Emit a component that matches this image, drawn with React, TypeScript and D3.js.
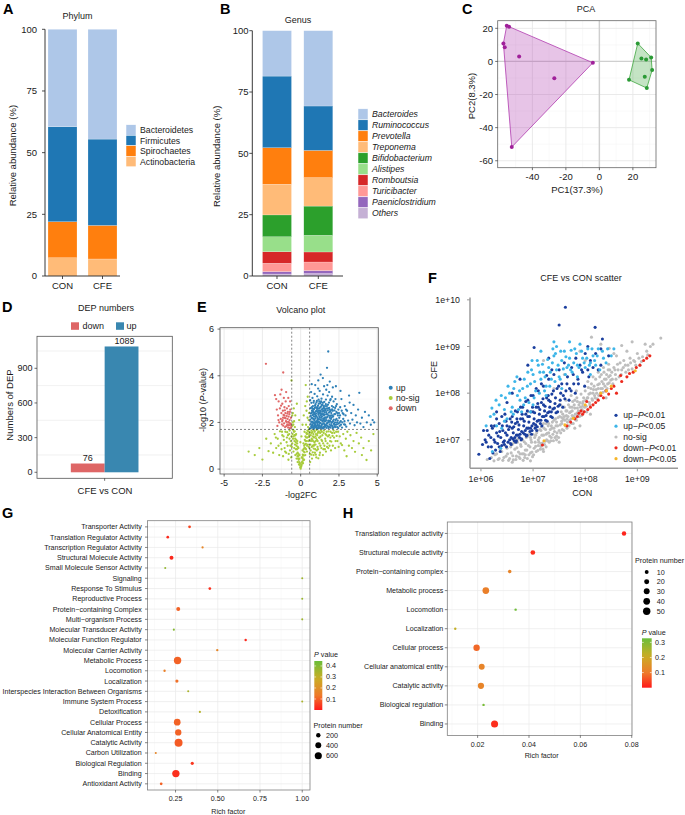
import React from "react";
import * as d3 from "d3";

const FONT = "'Liberation Sans', Arial, Helvetica, sans-serif";
const TXT = "#1a1a1a";

// ---------- A: phylum ----------
const phylumGroups = ["CON", "CFE"];
const phylumNames = ["Actinobacteria", "Spirochaetes", "Firmicutes", "Bacteroidetes"];
const phylumCON = [7.4, 14.6, 38.5, 39.5];
const phylumCFE = [6.9, 13.6, 35.0, 44.5];
const phylumColors = ["#FFBB78", "#FF7F0E", "#1F77B4", "#AEC7E8"];

// ---------- B: genus ----------
const genusNames = ["Others", "Paeniclostridium", "Turicibacter", "Romboutsia", "Alistipes", "Bifidobacterium", "Treponema", "Prevotella", "Ruminococcus", "Bacteroides"];
const genusCON = [0.8, 1.0, 3.4, 4.7, 6.1, 8.9, 12.5, 14.9, 29.2, 18.5];
const genusCFE = [1.0, 1.2, 3.5, 4.1, 6.8, 11.9, 11.6, 11.1, 18.1, 30.7];
const genusColors = ["#C5B0D5", "#9467BD", "#FF9896", "#D62728", "#98DF8A", "#2CA02C", "#FFBB78", "#FF7F0E", "#1F77B4", "#AEC7E8"];
const abundanceTicks = [0, 25, 50, 75, 100];

// ---------- C: PCA ----------
const pcaCON: [number, number][] = [[-55.3, 21.6], [-53.9, 21.0], [-57.3, 10.9], [-56.5, 8.5], [-47.9, 3.0], [-26.9, -10.1], [-3.9, -0.8], [-52.3, -51.7]];
const pcaCFE: [number, number][] = [[22.9, 10.9], [25.1, 1.8], [27.9, 1.2], [30.9, 2.4], [31.5, -5.2], [27.1, -9.3], [17.7, -11.1], [28.3, -16.1]];
const pcaTicksX = [-40, -20, 0, 20];
const pcaTicksY = [-60, -40, -20, 0, 20];

// ---------- D: DEP numbers ----------
const depGroups = ["down", "up"];
const depValues = [76, 1089];
const depColors = ["#DE6666", "#3987B0"];
const depTicks = [0, 300, 600, 900];

// ---------- E: volcano (log2FC, -log10 P) ----------
const volcanoUp: [number, number][] = [
  [0.61,1.74],[0.63,2.12],[0.64,2.61],[0.66,1.93],[0.67,2.38],[0.69,1.81],[0.7,2.84],[0.71,2.2],[0.73,1.77],[0.74,2.5],[0.75,2.03],[0.77,3.05],[0.78,1.88],[0.79,2.31],[0.8,2.7],[0.82,1.98],[0.83,2.15],[0.84,1.76],[0.85,2.55],[0.86,2.92],[0.87,2.25],[0.88,1.84],[0.89,2.42],[0.9,2.08],[0.91,3.22],[0.92,1.95],[0.93,2.63],[0.94,2.34],[0.95,1.79],[0.96,2.18],[0.97,2.78],[0.98,2.01],[0.99,2.47],[0.62,2.95],[0.68,3.3],[0.72,2.42],[0.76,2.6],[0.81,2.45],[0.86,2.0],[0.93,1.88],
  [1.01,1.82],[1.02,2.27],[1.03,2.86],[1.05,2.05],[1.06,1.75],[1.07,2.58],[1.08,3.12],[1.1,2.14],[1.11,1.92],[1.12,2.45],[1.13,2.72],[1.15,1.8],[1.16,2.33],[1.17,2.98],[1.18,2.02],[1.2,2.6],[1.21,1.88],[1.22,2.24],[1.24,3.35],[1.25,2.5],[1.26,1.76],[1.27,2.12],[1.28,2.82],[1.3,1.97],[1.31,2.4],[1.32,2.67],[1.33,1.84],[1.35,2.2],[1.36,3.02],[1.37,2.55],[1.38,1.9],[1.4,2.35],[1.41,2.08],[1.42,2.76],[1.44,1.78],[1.45,2.48],[1.46,3.2],[1.47,2.16],[1.49,1.95],[1.5,2.62],[1.51,2.3],[1.52,1.82],[1.54,2.88],[1.55,2.05],[1.56,2.44],[1.58,1.9],[1.59,2.7],[1.6,2.22],[1.04,2.5],[1.09,1.98],[1.14,3.45],[1.19,2.38],[1.23,2.0],[1.29,2.3],[1.34,2.9],[1.39,1.76],[1.43,2.58],[1.48,2.1],[1.53,3.55],[1.57,2.15],
  [1.62,1.86],[1.63,2.52],[1.65,2.98],[1.66,2.1],[1.68,1.77],[1.7,2.36],[1.71,2.7],[1.73,1.95],[1.75,2.24],[1.76,3.15],[1.78,2.0],[1.8,2.6],[1.82,1.82],[1.84,2.42],[1.85,2.85],[1.87,2.08],[1.89,1.92],[1.9,2.55],[1.92,2.28],[1.94,1.78],[1.96,3.0],[1.98,2.15],[2.0,2.4],[2.02,1.88],[2.04,2.7],[2.06,2.02],[2.08,1.76],[2.1,2.5],[2.12,2.25],[2.15,2.9],[2.17,1.95],[2.2,2.35],[2.22,1.82],[2.25,2.62],[2.28,2.1],[2.3,1.9],[2.33,2.45],[2.36,2.78],[2.38,2.0],[2.4,1.8],[2.43,2.3],[2.46,2.55],[2.48,1.95],[1.67,3.4],[1.74,3.6],[1.86,3.3],[1.93,2.95],[2.05,3.1],[2.14,1.78],[2.27,3.0],
  [2.52,2.2],[2.55,1.85],[2.58,2.65],[2.62,2.05],[2.66,3.0],[2.7,1.78],[2.74,2.4],[2.78,2.15],[2.83,1.92],[2.88,2.7],[2.93,2.3],[2.98,1.82],[3.03,2.5],[3.1,2.08],[3.16,3.15],[3.22,1.95],[3.3,2.4],[3.38,2.12],[3.45,2.75],[3.52,1.88],[3.6,2.3],[3.68,2.0],[3.75,2.55],[3.83,3.27],[3.9,1.95],[4.0,2.2],[4.1,1.8],[4.2,2.45],[4.32,2.0],[4.45,2.3],[4.58,1.9],[4.7,2.1],[4.8,2.0],[3.2,2.85],[2.6,3.35],
  [0.72,3.64],[1.8,5.04],[1.72,4.34],[1.45,3.9],[1.15,3.8],[0.95,3.6],[2.3,3.55],[1.9,3.75],[1.3,4.05],[2.1,3.5],
  [0.66,2.28],[0.69,2.02],[0.71,1.86],[0.73,2.66],[0.75,2.18],[0.77,1.92],[0.79,2.52],[0.8,1.8],[0.82,2.36],[0.84,2.85],[0.86,1.73],[0.87,2.58],[0.89,2.12],[0.91,1.82],[0.92,2.4],[0.94,2.72],[0.96,1.9],[0.98,2.28],[1.0,2.64],[1.01,2.0],[1.03,1.78],[1.04,2.38],[1.06,2.92],[1.07,1.86],[1.09,2.22],[1.1,2.66],[1.12,2.06],[1.13,1.74],[1.15,2.52],[1.16,2.14],[1.18,2.8],[1.19,1.84],[1.21,2.42],[1.22,2.9],[1.24,1.98],[1.25,2.2],[1.27,2.64],[1.28,1.78],[1.3,2.48],[1.31,2.86],[1.33,2.1],[1.34,2.34],[1.36,1.82],[1.37,2.74],[1.39,2.26],[1.4,1.92],[1.42,2.46],[1.43,2.04],[1.45,2.84],[1.46,1.74],[1.48,2.36],[1.49,2.7],[1.51,1.96],[1.52,2.52],[1.54,2.18],[1.55,1.78],[1.57,2.6],[1.58,2.34],[1.6,1.84],[1.61,2.56],[1.63,2.06],[1.64,2.78],[1.66,1.88],[1.67,2.44],[1.69,2.2],[1.7,1.96],[1.72,2.6],[1.73,2.34],[1.75,1.84],[1.77,2.52],[1.78,2.76],[1.8,2.08],[1.81,1.76],[1.83,2.3],[1.85,2.02],[1.86,2.62],[1.88,1.8],[1.9,2.2],[1.91,2.46],[1.93,2.05],[1.95,1.86],[1.97,2.5],[1.99,2.3],[2.01,1.98],[2.03,2.22],[2.05,2.56],[2.07,1.84],[2.09,2.3],[2.11,2.05],[2.13,2.66],[2.16,2.12],[2.19,1.9],[2.21,2.52],[2.24,2.0],[2.26,2.36],[2.29,1.8],[2.31,2.7],[2.34,2.15],[2.37,1.92],[2.39,2.4],[2.42,2.08],[2.45,1.76],[2.5,2.4],[2.54,2.0],[2.57,2.3],[2.63,1.9],[2.68,2.5],[2.72,2.0],[2.8,2.35],[2.86,2.05],[2.9,1.9],[2.96,2.55]
];
const volcanoDown: [number, number][] = [
  [-0.62,1.8],[-0.64,2.2],[-0.66,1.95],[-0.68,2.55],[-0.7,1.75],[-0.72,2.1],[-0.74,2.35],[-0.76,1.88],[-0.78,2.7],[-0.8,2.02],[-0.82,1.78],[-0.84,2.45],[-0.86,2.15],[-0.88,1.92],[-0.9,2.6],[-0.92,2.28],[-0.94,1.84],[-0.96,2.05],[-0.98,2.9],[-1.0,2.4],[-1.02,1.8],[-1.04,2.2],[-1.06,2.65],[-1.08,1.96],[-1.1,3.05],[-1.12,2.32],[-1.14,1.86],[-1.16,2.5],[-1.18,2.1],[-1.2,2.8],[-1.23,1.92],[-1.26,2.4],[-1.3,2.15],[-1.33,3.2],[-1.36,2.6],[-1.4,2.0],[-1.44,2.9],[-1.48,2.3],[-1.52,1.85],[-1.56,2.55],[-1.6,3.0],[-1.68,3.17],[-1.14,4.14],[-2.27,4.51],[-1.25,3.4],[-0.95,3.3],
  [-0.65,1.9],[-0.71,2.45],[-0.75,1.98],[-0.79,2.25],[-0.83,1.88],[-0.87,2.38],[-0.91,2.02],[-0.99,2.18],[-1.03,2.52],[-1.07,2.3],[-1.15,2.2],[-1.21,2.05],[-0.69,2.9],[-0.81,3.05],[-1.28,2.72],[-1.45,2.1]
];
const volcanoNoSig: [number, number][] = [
  [0.0,0.02],[0.03,0.1],[-0.03,0.08],[0.06,0.2],[-0.06,0.18],[0.1,0.32],[-0.1,0.3],[0.13,0.45],[-0.13,0.4],[0.16,0.6],[-0.16,0.55],[0.2,0.75],[-0.2,0.7],[0.24,0.9],[-0.24,0.85],[0.28,1.05],[-0.28,1.0],[0.32,1.2],[-0.32,1.15],[0.36,1.35],[-0.36,1.3],[0.4,1.5],[-0.4,1.45],[0.44,1.65],[-0.44,1.6],[0.48,1.8],[-0.48,1.9],[0.52,2.1],[-0.52,2.0],[0.55,2.4],[-0.55,2.3],[0.08,0.5],[0.15,0.25],[0.22,0.4],[0.3,0.6],[0.35,0.85],[0.42,1.0],[0.5,1.2],[0.56,1.45],[0.45,2.2],[0.38,2.5],[0.33,3.6],[0.25,1.6],[0.18,1.1],[0.12,0.8],[-0.08,0.6],[-0.15,0.9],[-0.22,1.2],[-0.3,1.5],[-0.38,1.8],[-0.45,2.6],[-0.5,1.3],[-0.42,0.9],[-0.35,0.6],[-0.27,0.45],[-0.2,0.3],[-0.6,3.8],[0.4,2.9],[-0.55,1.1],[0.57,0.9],
  [0.62,0.3],[0.65,0.8],[0.68,1.2],[0.7,1.55],[0.74,0.45],[0.78,1.0],[0.8,1.4],[0.84,0.6],[0.88,1.65],[0.9,1.15],[0.95,0.85],[1.0,1.5],[1.02,0.5],[1.06,1.25],[1.1,0.95],[1.15,0.46],[1.18,1.6],[1.22,1.1],[1.26,0.7],[1.3,1.4],[1.35,0.9],[1.4,1.2],[1.45,0.6],[1.5,1.55],[1.55,1.0],[1.6,1.3],[1.65,0.75],[1.7,1.6],[1.75,1.1],[1.8,0.9],[1.86,1.45],[1.92,1.2],[1.98,0.8],[2.05,1.55],[2.1,1.0],[2.18,1.35],[2.25,0.9],[2.32,1.6],[2.4,1.2],[2.48,0.95],[0.72,1.3],[0.86,1.0],[0.98,1.2],[1.12,1.55],[1.24,1.35],[1.38,1.6],[1.48,0.85],[1.62,1.5],[1.78,1.4],[1.95,1.6],[2.15,1.65],
  [2.55,1.4],[2.62,1.1],[2.7,1.03],[2.78,1.5],[2.85,0.8],[2.95,1.3],[3.05,1.6],[3.15,1.0],[3.25,1.45],[3.35,0.9],[3.45,1.2],[3.55,0.74],[3.65,1.55],[3.8,1.1],[3.95,1.35],[4.1,0.9],[4.3,0.39],[4.45,1.2],[4.6,0.8],[4.75,1.5],[3.0,0.55],[4.0,0.6],
  [-0.62,0.5],[-0.65,1.2],[-0.7,0.8],[-0.75,1.5],[-0.8,0.4],[-0.85,1.0],[-0.9,1.35],[-0.95,0.7],[-1.0,1.6],[-1.05,0.9],[-1.1,1.25],[-1.15,0.55],[-1.2,1.45],[-1.25,0.85],[-1.3,1.1],[-1.4,0.6],[-1.5,1.3],[-1.6,0.9],[-1.7,1.5],[-1.8,0.7],[-1.95,1.1],[-2.1,0.77],[-2.25,1.3],[-2.5,0.41],[-2.7,0.9],[-3.0,0.6],[-3.4,0.75],[-0.72,1.65],[-0.88,1.58],[-1.35,1.62],
  [0.05,0.15],[0.09,0.28],[0.11,0.5],[0.14,0.62],[0.17,0.38],[0.19,0.85],[0.21,0.58],[0.23,1.0],[0.26,0.72],[0.27,1.25],[0.29,0.9],[0.31,1.4],[0.34,1.08],[0.37,1.55],[0.39,1.2],[0.41,0.75],[0.43,1.35],[0.46,1.52],[0.47,1.05],[0.49,1.62],[0.51,1.38],[0.53,0.95],[0.54,1.7],[0.58,1.25],[0.59,1.58],[0.6,0.65],[0.63,1.05],[0.66,1.45],[0.69,0.62],[0.71,1.65],[0.73,0.95],[0.76,1.25],[0.77,1.58],[0.79,0.72],[0.81,1.2],[0.83,1.5],[0.85,0.88],[0.87,1.35],[0.89,1.05],[0.92,1.6],[0.93,0.7],[0.96,1.4],[0.97,1.05],[0.99,0.62],[1.01,1.32],[1.04,1.68],[1.05,0.8],[1.08,1.45],[1.11,1.2],[1.13,0.85],[1.16,1.6],[1.2,1.35],[1.23,0.6],[1.27,1.55],[1.29,1.0],[1.32,1.65],[1.36,1.25],[1.42,1.45],[1.47,1.1],[1.52,1.65],[1.58,0.85],[1.63,1.2],[1.68,1.45],[1.72,0.95],[1.82,1.62],[1.88,1.0],[1.94,1.35],[2.0,1.18],[2.08,1.42],[2.2,1.55],[2.28,1.2],[2.35,1.42],[2.44,1.6],
  [-0.05,0.25],[-0.09,0.45],[-0.11,0.2],[-0.14,0.65],[-0.17,0.45],[-0.19,0.95],[-0.21,0.55],[-0.23,1.1],[-0.26,0.65],[-0.29,1.25],[-0.31,0.85],[-0.34,1.45],[-0.37,1.05],[-0.39,1.62],[-0.41,1.2],[-0.43,2.05],[-0.46,1.4],[-0.47,0.75],[-0.49,1.68],[-0.51,2.4],[-0.53,1.5],[-0.56,1.85],[-0.58,0.95],[-0.6,1.4],[-0.67,1.0],[-0.73,1.3],[-0.78,0.65],[-0.83,1.45],[-0.92,1.15],[-1.02,0.75],[-1.12,1.4],[-1.22,1.6],[-1.45,1.0],[-1.62,1.35],
  [0.12,1.9],[0.2,2.3],[-0.1,2.1],[0.3,2.7],[-0.25,2.8],[0.46,3.1],[0.05,1.4],[-0.02,1.15],[0.35,1.9],[-0.35,2.3]
];
const volcanoTicksX = [-5, -2.5, 0, 2.5, 5];
const volcanoTicksY = [0, 2, 4, 6];
const fcCut = 0.585;
const pCut = 1.7;

// ---------- F: scatter (log10 CON, log10 CFE) ----------
const scatterNoSig: [number, number][] = [
  [6.12,6.58],[6.2,6.62],[6.25,6.55],[6.3,6.7],[6.35,6.6],[6.4,6.75],[6.42,6.56],[6.48,6.65],[6.5,6.82],[6.55,6.6],[6.58,6.72],[6.6,6.9],[6.62,6.57],[6.65,6.8],
  [6.68,6.65],[6.7,6.95],[6.72,6.74],[6.75,6.6],[6.77,6.86],[6.8,7.0],[6.82,6.7],[6.84,6.62],[6.86,6.92],[6.88,6.78],[6.9,7.08],[6.92,6.68],[6.94,6.85],[6.96,7.0],[6.98,6.74],[6.99,6.64],
  [7.0,7.12],[7.02,6.82],[7.04,6.95],[7.06,6.75],[7.08,7.2],[7.1,6.88],[7.12,7.05],[7.14,6.8],[7.16,7.28],[7.18,6.93],[7.2,7.1],[7.22,6.9],[7.24,7.22],[7.26,7.0],[7.28,6.98],[7.3,7.35],[7.32,7.08],[7.34,6.98],[7.36,7.25],[7.38,7.12],[7.4,7.42],[7.42,7.05],[7.44,7.3],[7.46,7.15],[7.48,7.48],[7.5,7.2],[7.05,7.3],[7.15,6.92],[7.25,7.35],[7.35,7.5],[7.45,7.0],[7.1,7.0],[7.2,7.35],[7.3,7.15],[7.4,7.25],
  [7.52,7.32],[7.54,7.6],[7.56,7.22],[7.58,7.45],[7.6,7.7],[7.62,7.3],[7.64,7.52],[7.66,7.38],[7.68,7.75],[7.7,7.42],[7.72,7.6],[7.74,7.35],[7.76,7.82],[7.78,7.5],[7.8,7.68],[7.82,7.46],[7.84,7.9],[7.86,7.55],[7.88,7.75],[7.9,7.6],[7.92,7.98],[7.94,7.65],[7.96,7.82],[7.98,7.6],[7.55,7.4],[7.65,7.62],[7.75,7.7],[7.85,7.68],[7.95,7.72],[7.6,7.5],[7.7,7.58],[7.8,7.85],[7.9,7.8],[7.53,7.75],[7.63,7.85],[7.73,7.95],[7.83,8.05],
  [8.0,8.05],[8.02,7.72],[8.04,7.9],[8.06,8.12],[8.08,7.8],[8.1,8.0],[8.12,8.2],[8.14,7.85],[8.16,8.08],[8.18,7.95],[8.2,8.3],[8.22,8.0],[8.24,8.18],[8.26,7.95],[8.28,8.35],[8.3,8.1],[8.32,8.25],[8.34,8.02],[8.36,8.45],[8.38,8.15],[8.4,8.3],[8.42,8.1],[8.44,8.5],[8.46,8.22],[8.48,8.38],[8.05,8.25],[8.15,8.35],[8.25,8.45],[8.35,8.55],[8.45,8.62],
  [8.52,8.3],[8.55,8.55],[8.58,8.4],[8.62,8.62],[8.65,8.35],[8.7,8.5],[8.74,8.7],[8.78,8.45],[8.82,8.6],[8.86,8.75],[8.9,8.52],[8.95,8.68],[9.0,8.85],[9.05,8.6],[9.1,8.78],[9.18,8.9],[9.25,9.0],[9.45,9.18],[8.6,8.8],[8.8,8.9],[9.15,9.05],
  [8.12,9.2],[8.46,8.96],[8.3,9.05],[8.7,9.02],[8.9,9.1],[7.9,8.9],[8.0,8.7],[7.6,8.4],[7.4,8.1],[7.2,8.7],[6.9,7.6],[8.55,8.85],[9.3,9.05],
  [7.5,6.95],[7.8,7.25],[8.1,7.55],[7.2,6.75],[6.95,6.55],[8.4,7.9],[7.9,7.3],[6.6,6.52],
  [6.27,6.68],[6.33,6.58],[6.37,6.8],[6.44,6.62],[6.46,6.88],[6.51,6.7],[6.53,6.56],[6.57,6.85],[6.61,6.66],[6.63,6.94],[6.67,6.58],[6.69,6.83],[6.71,7.02],[6.73,6.63],[6.76,6.9],[6.79,6.7],[6.81,6.56],[6.83,6.96],[6.85,6.78],[6.87,7.05],[6.89,6.6],[6.91,6.88],[6.93,7.12],[6.95,6.72],[6.97,6.95],[7.01,6.68],[7.03,7.05],[7.05,6.86],[7.07,7.15],[7.09,6.77],[7.11,6.95],[7.13,7.22],[7.15,6.86],[7.17,7.1],[7.19,6.8],[7.21,7.25],[7.23,6.97],[7.25,6.85],[7.27,7.14],[7.29,7.3],[7.31,6.95],[7.33,7.22],[7.35,7.05],[7.37,7.38],[7.39,6.98],[7.41,7.18],[7.43,7.45],[7.45,7.08],[7.47,7.3],[7.49,7.05],[7.51,7.5],[7.53,7.15],[7.55,7.35],[7.57,7.55],[7.59,7.2],[7.61,7.42],[7.63,7.62],[7.65,7.25],[7.67,7.5],[7.69,7.3],[7.71,7.7],[7.73,7.45],[7.75,7.52],[7.77,7.35],[7.79,7.75],[7.81,7.55],[7.83,7.42],[7.85,7.82],[7.87,7.62],[7.89,7.5],[7.91,7.7],[7.93,7.52],[7.97,7.9],[7.99,7.7],[8.01,7.85],[8.03,7.6],[8.07,7.98],[8.09,7.75],[8.11,8.1],[8.13,7.88],[8.17,8.15],[8.19,7.9],[8.21,8.08],[8.23,7.88],[8.27,8.2],[8.29,8.0],[8.31,8.4],[8.33,8.1],[8.37,8.3],[8.39,8.05],[8.41,8.4],[8.43,8.2],[8.47,8.5],[8.49,8.28],[8.51,8.45],[8.53,8.2],[8.57,8.5],[8.59,8.3],[8.63,8.5],[8.67,8.65],[8.69,8.4],[8.73,8.55],[8.77,8.6],[8.83,8.5],[8.87,8.65],[8.93,8.7],[8.97,8.6],[9.03,8.75],[9.08,8.68],[9.2,8.82],[6.65,7.0],[6.75,6.7],[6.85,6.68],[6.95,7.05],[7.05,7.1],[7.15,7.2],[7.25,7.12],[7.35,7.3],[7.45,7.38],[7.55,7.48],[7.65,7.45],[7.75,7.62],[7.85,7.58],[7.95,7.78],[8.05,7.9],[8.15,8.0],[8.25,8.1],[8.35,8.2],[8.45,8.35]
];
const scatterUp01: [number, number][] = [
  [6.1,6.95],[6.15,7.1],[6.2,6.85],[6.22,7.25],[6.25,7.0],[6.28,6.78],[6.3,7.15],[6.32,6.92],[6.35,7.35],[6.38,7.05],[6.4,6.88],[6.42,7.2],[6.45,6.98],[6.48,7.4],[6.5,7.1],[6.52,6.95],[6.55,7.28],[6.58,7.05],[6.6,7.5],[6.62,7.15],[6.64,6.98],[6.66,7.35],[6.68,7.1],[6.7,7.6],[6.72,7.22],[6.74,7.05],[6.76,7.45],[6.78,7.18],[6.8,7.7],[6.82,7.3],[6.84,7.12],[6.86,7.55],[6.88,7.25],[6.9,7.85],[6.92,7.38],[6.94,7.18],[6.96,7.6],[6.98,7.3],[7.0,7.95],[7.02,7.45],[7.04,7.25],[7.06,7.7],[7.08,7.4],[7.1,8.05],[7.12,7.55],[7.14,7.35],[7.16,7.8],[7.18,7.5],[7.2,8.15],[7.22,7.62],[7.24,7.42],[7.26,7.9],[7.28,7.58],[7.3,8.3],[7.32,7.7],[7.34,7.5],[7.36,7.98],[7.38,7.66],[7.4,8.4],[7.42,7.78],[7.44,7.58],[7.46,8.1],[7.48,7.72],[7.5,8.5],[7.52,7.85],[7.55,8.2],[7.58,7.95],[7.6,8.65],[7.63,8.05],[7.66,8.35],[7.7,8.1],[7.74,8.55],[7.78,8.2],[7.82,8.75],[7.86,8.3],[7.9,8.6],[7.95,8.45],[8.0,8.85],[8.05,8.5],[8.1,8.7],[8.2,8.85],[8.3,8.6],
  [6.45,6.9],[6.55,7.0],[6.65,7.05],[6.75,7.12],[6.85,7.2],[6.95,7.25],[7.05,7.32],[7.15,7.42],[7.25,7.52],[7.35,7.6],[6.5,7.3],[6.6,7.25],[6.7,7.38],[6.8,7.45],[6.9,7.5],[7.0,7.6],[7.1,7.7],[7.2,7.75],[7.3,7.85],[6.4,7.5],[6.3,7.45],[6.2,7.3],[6.12,7.2],[6.35,6.85],[6.58,6.9],[6.68,6.98],[6.78,7.02],[6.88,7.1],[6.98,7.2],[7.08,7.28],
  [7.62,9.84],[7.5,9.46],[8.19,9.41],[8.33,9.16],[7.02,8.98],[5.96,6.69],[6.75,8.3],[6.9,8.6],[6.6,8.0],[8.05,9.0],[8.3,8.95],[8.45,8.8],[7.3,8.75],[6.5,7.8],[6.3,7.6],[6.05,7.2],
  [6.17,6.6],[6.23,6.72],[6.27,6.95],[6.33,7.08],[6.37,6.75],[6.41,7.3],[6.43,6.95],[6.47,7.15],[6.49,6.85],[6.53,7.22],[6.57,6.92],[6.59,7.38],[6.61,7.02],[6.63,7.28],[6.67,6.95],[6.69,7.45],[6.71,7.1],[6.73,7.32],[6.77,7.0],[6.79,7.55],[6.81,7.15],[6.83,7.4],[6.87,7.08],[6.89,7.62],[6.91,7.25],[6.93,7.5],[6.97,7.12],[6.99,7.7],[7.01,7.35],[7.03,7.58],[7.07,7.2],[7.09,7.78],[7.11,7.42],[7.13,7.65],[7.17,7.3],[7.19,7.88],[7.21,7.5],[7.23,7.72],[7.27,7.4],[7.29,7.95],[7.31,7.6],[7.33,7.82],[7.37,7.48],[7.39,8.05],[7.41,7.68],[7.43,7.9],[7.47,7.6],[7.49,8.15],[7.51,7.75],[7.53,8.0],[7.57,7.7],[7.61,7.88],[7.65,8.2],[7.69,7.85],[7.73,8.05],[7.77,8.4],[7.81,8.0],[7.87,8.2],[7.93,8.5],[7.99,8.15],[8.07,8.35],[8.15,8.55],[8.25,8.5],[6.26,7.3],[6.36,7.18],[6.46,7.55],[6.56,7.45],[6.66,7.62],[6.76,7.7],[6.86,7.82],[6.96,7.95],[7.06,8.1],[7.16,8.2],[7.26,8.38],[7.36,8.5],[6.14,6.85],[6.19,7.05],[6.08,7.0],[6.03,6.9]
];
const scatterUp05: [number, number][] = [
  [6.25,7.55],[6.35,7.75],[6.45,7.65],[6.55,8.0],[6.6,7.7],[6.7,7.95],[6.8,8.1],[6.85,7.9],[6.95,8.2],[7.0,8.4],[7.05,8.05],[7.1,8.6],[7.15,8.3],[7.2,8.45],[7.25,8.15],[7.3,8.55],[7.35,8.3],[7.4,8.8],[7.45,8.5],[7.5,8.35],[7.55,8.7],[7.6,8.9],[7.65,8.55],[7.7,8.75],[7.75,8.45],[7.8,8.95],[7.85,8.6],[7.9,9.05],[7.95,8.75],[8.0,8.55],[8.05,8.95],[8.1,8.4],[8.15,8.8],[8.2,8.6],[8.25,8.95],[8.35,8.75],[8.4,8.65],[8.5,8.8],
  [6.4,7.25],[6.5,7.45],[6.62,7.55],[6.72,7.65],[6.82,7.75],[6.92,7.8],[7.02,7.9],[7.12,8.0],[7.22,8.05],[7.32,8.15],[7.42,8.25],[7.52,8.3],[7.62,8.4],[7.72,8.5],[6.3,7.3],[6.18,7.5],[6.1,7.3],[6.65,8.25],[6.9,8.45],[7.45,9.0],[7.7,9.1],[6.22,6.75],[6.38,6.82],[7.38,8.95],[8.28,8.5],[7.15,8.9],[6.75,7.85],[6.95,7.6],[7.25,7.95],[7.55,8.1],[7.85,8.35],[8.1,8.65],
  [6.21,7.68],[6.29,7.85],[6.39,7.95],[6.47,7.9],[6.52,8.15],[6.63,8.1],[6.69,8.35],[6.74,8.05],[6.83,8.3],[6.89,8.15],[6.97,8.5],[7.03,8.25],[7.08,8.7],[7.13,8.45],[7.18,8.62],[7.23,8.35],[7.28,8.72],[7.33,8.45],[7.37,8.65],[7.43,8.85],[7.48,8.6],[7.53,8.9],[7.58,8.52],[7.63,8.78],[7.68,8.6],[7.73,8.92],[7.78,8.65],[7.83,8.85],[7.88,8.55],[7.93,8.9],[7.98,8.65],[8.03,8.75],[8.08,8.6],[8.13,8.95],[8.18,8.7],[8.23,8.8],[8.33,8.9],[8.43,8.95],[8.55,8.95],[6.98,8.7],[7.4,9.1],[6.45,7.4],[6.58,7.6],[6.78,7.6],[7.0,7.75]
];
const scatterDown01: [number, number][] = [
  [9.24,8.8],[9.18,8.75],[9.12,8.7],[9.05,8.6],[8.98,8.55],[8.92,8.45],[8.8,8.35],[8.7,8.25],[8.6,8.0],[8.55,8.15],[8.5,8.1],[8.45,7.98],[8.4,8.05],[8.35,7.9],[8.3,7.95],[8.25,7.85],[8.2,7.8],[8.15,7.75],[8.1,7.7],[8.05,7.65],[8.03,7.82],[7.98,7.6],[7.95,7.55],[7.92,7.62],[7.88,7.57],[7.85,7.5],[7.8,7.45],[7.72,7.38],[7.65,7.3],[7.18,6.89],[8.68,8.38],[8.85,8.42]
];
const scatterDown05: [number, number][] = [[8.96,8.48],[7.21,6.98],[7.61,7.32],[7.77,7.46],[8.41,8.05],[8.5,8.15],[8.0,7.75],[8.3,8.0]];
const scatterTicksX = [6, 7, 8, 9];
const scatterTicksY = [7, 8, 9, 10];
const scatterLegend = ["up−", "up−", "no-sig", "down−", "down−"];
const scatterLegendP = ["<0.01", "<0.05", "", "<0.01", "<0.05"];
const scatterColors = ["#1B3F9E", "#3DB5E8", "#BEBEBE", "#EC2A1E", "#F6B62A"];

// ---------- G: GO enrichment (all) ----------
const goTerms = ["Transporter Activity", "Translation Regulator Activity", "Transcription Regulator Activity", "Structural Molecule Activity", "Small Molecule Sensor Activity", "Signaling", "Response To Stimulus", "Reproductive Process", "Protein−containing Complex", "Multi−organism Process", "Molecular Transducer Activity", "Molecular Function Regulator", "Molecular Carrier Activity", "Metabolic Process", "Locomotion", "Localization", "Interspecies Interaction Between Organisms", "Immune System Process", "Detoxification", "Cellular Process", "Cellular Anatomical Entity", "Catalytic Activity", "Carbon Utilization", "Biological Regulation", "Binding", "Antioxidant Activity"];
const goRich = [0.333, 0.204, 0.41, 0.226, 0.189, 1.0, 0.453, 1.0, 0.266, 1.0, 0.24, 0.665, 0.497, 0.262, 0.185, 0.258, 0.325, 1.0, 0.394, 0.26, 0.266, 0.268, 0.133, 0.349, 0.252, 0.165];
const goCount = [50, 40, 12, 150, 2, 1, 45, 1, 150, 1, 3, 25, 18, 650, 20, 80, 3, 1, 8, 520, 460, 760, 5, 80, 640, 45];
const goP = [0.06, 0.02, 0.17, 0.02, 0.38, 0.36, 0.03, 0.37, 0.1, 0.36, 0.4, 0.02, 0.17, 0.1, 0.15, 0.12, 0.34, 0.34, 0.32, 0.1, 0.1, 0.09, 0.17, 0.04, 0.03, 0.1];
const goTicks = [0.25, 0.5, 0.75, 1.0];
const goSizeLegend = [200, 400, 600];
const goPLegend = [0.1, 0.2, 0.3, 0.4];

// ---------- H: GO enrichment (DEP) ----------
const hTerms = ["Translation regulator activity", "Structural molecule activity", "Protein−containing complex", "Metabolic process", "Locomotion", "Localization", "Cellular process", "Cellular anatomical entity", "Catalytic activity", "Biological regulation", "Binding"];
const hRich = [0.077, 0.0415, 0.0325, 0.0232, 0.0348, 0.0113, 0.0196, 0.0216, 0.0213, 0.0223, 0.0266];
const hCount = [15, 17, 8, 40, 1, 1, 36, 30, 34, 1, 45];
const hP = [0.01, 0.02, 0.12, 0.11, 0.32, 0.22, 0.08, 0.12, 0.12, 0.31, 0.02];
const hTicks = [0.02, 0.04, 0.06, 0.08];
const hSizeLegend = [10, 20, 30, 40, 50];
const hPLegend = [0.1, 0.2, 0.3];

const pGradient = d3.scaleLinear<string>().domain([0, 0.3, 0.65, 1]).range(["#FF1A1A", "#EE7A2A", "#C9AE25", "#6ABE3A"]).interpolate(d3.interpolateRgb).clamp(true);

function Letter({ x, y, t }: { x: number; y: number; t: string }) {
  return <text x={x} y={y} fontSize={14.5} fontWeight="bold" fill="#000">{t}</text>;
}

type StackProps = {
  title: string; titleX: number; titleY: number; names: string[]; values: number[][]; colors: string[];
  top: number; bottom: number; axisX: number; axisEnd: number; pi: number; po: number; labelEnd: number; yTitleX: number;
  legendX: number; legendY: number; legendStep: number; italic: boolean;
};
function StackedPanel(p: StackProps) {
  const y = d3.scaleLinear().domain([0, 100]).range([p.bottom, p.top]);
  const x = d3.scaleBand().domain(phylumGroups).range([p.axisX, p.axisEnd]).paddingInner(p.pi).paddingOuter(p.po);
  const rows = phylumGroups.map((g, gi) => {
    const o: Record<string, number> = {};
    p.names.forEach((n, ni) => (o[n] = p.values[gi][ni]));
    return o;
  });
  const series = d3.stack<Record<string, number>>().keys(p.names)(rows);
  const legendIdx = p.names.map((_, i) => i).reverse();
  return (
    <g>
      <text x={p.titleX} y={p.titleY} dy="0.35em" textAnchor="middle" fontSize={9} fill={TXT}>{p.title}</text>
      {series.map((s, si) => s.map((d, gi) => (
        <rect key={`${si}-${gi}`} x={x(phylumGroups[gi])} width={x.bandwidth()} y={y(d[1])} height={y(d[0]) - y(d[1])} fill={p.colors[si]} stroke="#fff" strokeOpacity={0.5} strokeWidth={0.4} />
      )))}
      <line x1={p.axisX} x2={p.axisX} y1={p.top} y2={p.bottom} stroke="#222" strokeWidth={0.9} />
      <line x1={p.axisX} x2={p.axisEnd} y1={p.bottom} y2={p.bottom} stroke="#222" strokeWidth={0.9} />
      {abundanceTicks.map((t) => (
        <g key={t}>
          <line x1={p.axisX - 3} x2={p.axisX} y1={y(t)} y2={y(t)} stroke="#222" strokeWidth={0.8} />
          <text x={p.labelEnd} y={y(t)} dy="0.35em" textAnchor="end" fontSize={9.5} fill={TXT}>{t}</text>
        </g>
      ))}
      {phylumGroups.map((g) => {
        const cx = (x(g) as number) + x.bandwidth() / 2;
        return (
          <g key={g}>
            <line x1={cx} x2={cx} y1={p.bottom} y2={p.bottom + 3} stroke="#222" strokeWidth={0.8} />
            <text x={cx} y={p.bottom + 10} dy="0.35em" textAnchor="middle" fontSize={9.5} fill={TXT}>{g}</text>
          </g>
        );
      })}
      <text transform={`translate(${p.yTitleX},${(p.top + p.bottom) / 2 + 3}) rotate(-90)`} dy="0.35em" textAnchor="middle" fontSize={9.5} fill={TXT}>Relative abundance (%)</text>
      {legendIdx.map((ni, i) => (
        <g key={ni}>
          <rect x={p.legendX} y={p.legendY + i * p.legendStep - p.legendStep / 2} width={10} height={p.legendStep} fill={p.colors[ni]} stroke="#fff" strokeWidth={0.5} />
          <text x={p.legendX + 14} y={p.legendY + i * p.legendStep} dy="0.35em" fontSize={8.7} fontStyle={p.italic ? "italic" : "normal"} fill={TXT}>{p.names[ni]}</text>
        </g>
      ))}
    </g>
  );
}

function PanelC() {
  const left = 497.7, right = 656, top = 20.7, bottom = 167.7;
  const x = d3.scaleLinear().domain([-60.7, 33.8]).range([left, right]);
  const y = d3.scaleLinear().domain([-64.2, 24.6]).range([bottom, top]);
  const minorX = [-50, -30, -10, 10, 30];
  const minorY = [-50, -30, -10, 10];
  const groups = [
    { pts: pcaCON, fill: "#B03AAE", pt: "#A0209A" },
    { pts: pcaCFE, fill: "#3DA63D", pt: "#2A9A35" },
  ];
  return (
    <g>
      <text x={586} y={9} dy="0.35em" textAnchor="middle" fontSize={9} fill={TXT}>PCA</text>
      <rect x={left} y={top} width={right - left} height={bottom - top} fill="#fff" />
      {minorX.map((v) => <line key={"mx" + v} x1={x(v)} x2={x(v)} y1={top} y2={bottom} stroke="#F3F3F3" strokeWidth={0.5} />)}
      {minorY.map((v) => <line key={"my" + v} x1={left} x2={right} y1={y(v)} y2={y(v)} stroke="#F3F3F3" strokeWidth={0.5} />)}
      {pcaTicksX.map((v) => <line key={"gx" + v} x1={x(v)} x2={x(v)} y1={top} y2={bottom} stroke="#E8E8E8" strokeWidth={0.9} />)}
      {pcaTicksY.map((v) => <line key={"gy" + v} x1={left} x2={right} y1={y(v)} y2={y(v)} stroke="#E8E8E8" strokeWidth={0.9} />)}
      <line x1={x(0)} x2={x(0)} y1={top} y2={bottom} stroke="#CFCFCF" strokeWidth={1.4} />
      <line x1={left} x2={right} y1={y(0)} y2={y(0)} stroke="#CFCFCF" strokeWidth={1.4} />
      {groups.map((g, gi) => {
        const hull = d3.polygonHull(g.pts.map((d) => [x(d[0]), y(d[1])] as [number, number]))!;
        return (
          <g key={gi}>
            <path d={`M${hull.map((h) => h.join(",")).join("L")}Z`} fill={g.fill} fillOpacity={0.3} stroke={g.fill} strokeWidth={0.8} />
            {g.pts.map((d, i) => <circle key={i} cx={x(d[0])} cy={y(d[1])} r={2} fill={g.pt} />)}
          </g>
        );
      })}
      <rect x={left} y={top} width={right - left} height={bottom - top} fill="none" stroke="#666" strokeWidth={0.8} />
      {pcaTicksX.map((v) => (
        <g key={"tx" + v}>
          <line x1={x(v)} x2={x(v)} y1={bottom} y2={bottom + 2.5} stroke="#333" strokeWidth={0.7} />
          <text x={x(v)} y={177} dy="0.35em" textAnchor="middle" fontSize={9.5} fill={TXT}>{v}</text>
        </g>
      ))}
      {pcaTicksY.map((v) => (
        <g key={"ty" + v}>
          <line x1={left - 2.5} x2={left} y1={y(v)} y2={y(v)} stroke="#333" strokeWidth={0.7} />
          <text x={493} y={y(v)} dy="0.35em" textAnchor="end" fontSize={9.5} fill={TXT}>{v}</text>
        </g>
      ))}
      <text x={577} y={189.5} dy="0.35em" textAnchor="middle" fontSize={9.5} fill={TXT}>PC1(37.3%)</text>
      <text transform="translate(471.5,96) rotate(-90)" dy="0.35em" textAnchor="middle" fontSize={9.5} fill={TXT}>PC2(8.3%)</text>
    </g>
  );
}

function PanelD() {
  const left = 37, right = 172.3, top = 336.3, bottom = 478.3;
  const y = d3.scaleLinear().domain([-52, 1177]).range([bottom, top]);
  const outer = d3.scaleBand().domain(["CFE vs CON"]).range([left, right]).paddingOuter(0.5);
  const inner = d3.scaleBand().domain(depGroups).range([0, outer.bandwidth()]);
  const gx = outer("CFE vs CON") as number;
  const gridVals = [150, 450, 750, 1050];
  return (
    <g>
      <text x={106} y={307.5} dy="0.35em" textAnchor="middle" fontSize={9} fill={TXT}>DEP numbers</text>
      {depGroups.map((g, i) => (
        <g key={g}>
          <rect x={i === 0 ? 71 : 116} y={322.3} width={8} height={7.5} fill={depColors[i]} />
          <text x={i === 0 ? 82.5 : 126.5} y={326} dy="0.35em" fontSize={9} fill={TXT}>{g}</text>
        </g>
      ))}
      {gridVals.map((v) => <line key={v} x1={left} x2={right} y1={y(v)} y2={y(v)} stroke="#EBEBEB" strokeWidth={0.7} />)}
      {depGroups.map((g, i) => (
        <g key={g}>
          <rect x={gx + (inner(g) as number)} width={inner.bandwidth()} y={y(depValues[i])} height={y(0) - y(depValues[i])} fill={depColors[i]} />
          <text x={gx + (inner(g) as number) + inner.bandwidth() / 2 + (i === 0 ? 0 : 3)} y={y(depValues[i]) - 6} dy="0.35em" textAnchor="middle" fontSize={9} fill={TXT}>{depValues[i]}</text>
        </g>
      ))}
      <rect x={left} y={top} width={right - left} height={bottom - top} fill="none" stroke="#555" strokeWidth={0.8} />
      {depTicks.map((v) => (
        <g key={v}>
          <line x1={left - 2.5} x2={left} y1={y(v)} y2={y(v)} stroke="#333" strokeWidth={0.7} />
          <text x={32.5} y={y(v)} dy="0.35em" textAnchor="end" fontSize={9} fill={TXT}>{v}</text>
        </g>
      ))}
      <line x1={gx + outer.bandwidth() / 2} x2={gx + outer.bandwidth() / 2} y1={bottom} y2={bottom + 2.5} stroke="#333" strokeWidth={0.7} />
      <text x={105} y={490.5} dy="0.35em" textAnchor="middle" fontSize={9.5} fill={TXT}>CFE vs CON</text>
      <text transform="translate(9.5,405) rotate(-90)" dy="0.35em" textAnchor="middle" fontSize={9.5} fill={TXT}>Numbers of DEP</text>
    </g>
  );
}

function PanelE() {
  const left = 220, right = 378.3, top = 327.7, bottom = 474;
  const x = d3.scaleLinear().domain([-5.27, 5.07]).range([left, right]);
  const y = d3.scaleLinear().domain([-0.21, 6.06]).range([bottom, top]);
  const minorX = [-3.75, -1.25, 1.25, 3.75];
  const minorY = [1, 3, 5];
  const sets = [
    { pts: volcanoNoSig, c: "#A8CC3C" },
    { pts: volcanoUp, c: "#2F80B7" },
    { pts: volcanoDown, c: "#E06868" },
  ];
  const legend = [["up", "#2F80B7"], ["no-sig", "#A8CC3C"], ["down", "#E06868"]];
  return (
    <g>
      <text x={300.7} y={309.5} dy="0.35em" textAnchor="middle" fontSize={9} fill={TXT}>Volcano plot</text>
      {minorX.map((v) => <line key={"mx" + v} x1={x(v)} x2={x(v)} y1={top} y2={bottom} stroke="#F3F3F3" strokeWidth={0.5} />)}
      {minorY.map((v) => <line key={"my" + v} x1={left} x2={right} y1={y(v)} y2={y(v)} stroke="#F3F3F3" strokeWidth={0.5} />)}
      {volcanoTicksX.map((v) => <line key={"gx" + v} x1={x(v)} x2={x(v)} y1={top} y2={bottom} stroke="#E6E6E6" strokeWidth={0.8} />)}
      {volcanoTicksY.map((v) => <line key={"gy" + v} x1={left} x2={right} y1={y(v)} y2={y(v)} stroke="#E6E6E6" strokeWidth={0.8} />)}
      {sets.map((s, si) => (
        <g key={si}>{s.pts.map((d, i) => <circle key={i} cx={x(d[0])} cy={y(d[1])} r={1.15} fill={s.c} />)}</g>
      ))}
      <line x1={x(-fcCut)} x2={x(-fcCut)} y1={top} y2={bottom} stroke="#333" strokeWidth={0.6} strokeDasharray="2,2" />
      <line x1={x(fcCut)} x2={x(fcCut)} y1={top} y2={bottom} stroke="#333" strokeWidth={0.6} strokeDasharray="2,2" />
      <line x1={left} x2={right} y1={y(pCut)} y2={y(pCut)} stroke="#333" strokeWidth={0.6} strokeDasharray="2,2" />
      <rect x={left} y={top} width={right - left} height={bottom - top} fill="none" stroke="#555" strokeWidth={0.8} />
      {volcanoTicksX.map((v) => (
        <g key={"tx" + v}>
          <line x1={x(v)} x2={x(v)} y1={bottom} y2={bottom + 2.5} stroke="#333" strokeWidth={0.7} />
          <text x={x(v)} y={482.7} dy="0.35em" textAnchor="middle" fontSize={9} fill={TXT}>{v}</text>
        </g>
      ))}
      {volcanoTicksY.map((v) => (
        <g key={"ty" + v}>
          <line x1={left - 2.5} x2={left} y1={y(v)} y2={y(v)} stroke="#333" strokeWidth={0.7} />
          <text x={214} y={y(v)} dy="0.35em" textAnchor="end" fontSize={9} fill={TXT}>{v}</text>
        </g>
      ))}
      <text x={301} y={495} dy="0.35em" textAnchor="middle" fontSize={9} fill={TXT}>-log2FC</text>
      <text transform="translate(203,400) rotate(-90)" dy="0.35em" textAnchor="middle" fontSize={9} fill={TXT}>
        -log10 (<tspan fontStyle="italic">P</tspan>-value)
      </text>
      {legend.map((l, i) => (
        <g key={l[0]}>
          <circle cx={390.7} cy={387.7 + i * 10.3} r={2} fill={l[1]} />
          <text x={396} y={387.7 + i * 10.3} dy="0.35em" fontSize={8.6} fill={TXT}>{l[0]}</text>
        </g>
      ))}
    </g>
  );
}

function PanelF() {
  const axX = 470, axY = 468.3;
  const x = d3.scaleLinear().domain([5.79, 9.78]).range([470, 678]);
  const y = d3.scaleLinear().domain([6.39, 10.05]).range([468.3, 297.5]);
  const sets = [scatterNoSig, scatterUp01, scatterUp05, scatterDown01, scatterDown05];
  const colorIdx = [2, 0, 1, 3, 4];
  const exp = (k: number) => (k < 10 ? `1e+0${k}` : `1e+${k}`);
  return (
    <g>
      <text x={581} y={278} dy="0.35em" textAnchor="middle" fontSize={9} fill={TXT}>CFE vs CON scatter</text>
      {sets.map((s, si) => (
        <g key={si}>{s.map((d, i) => <circle key={i} cx={x(d[0])} cy={y(d[1])} r={1.55} fill={scatterColors[colorIdx[si]]} />)}</g>
      ))}
      <line x1={axX} x2={axX} y1={297.5} y2={axY} stroke="#9A9A9A" strokeWidth={1.5} />
      <line x1={axX} x2={678} y1={axY} y2={axY} stroke="#9A9A9A" strokeWidth={1.5} />
      {scatterTicksY.map((k) => (
        <g key={k}>
          <line x1={axX - 3} x2={axX} y1={y(k)} y2={y(k)} stroke="#9A9A9A" strokeWidth={1} />
          <text x={460} y={y(k)} dy="0.35em" textAnchor="end" fontSize={8.8} fill={TXT}>{exp(k)}</text>
        </g>
      ))}
      {scatterTicksX.map((k) => (
        <g key={k}>
          <line x1={x(k)} x2={x(k)} y1={axY} y2={axY + 3} stroke="#9A9A9A" strokeWidth={1} />
          <text x={x(k)} y={478.5} dy="0.35em" textAnchor="middle" fontSize={8.8} fill={TXT}>{exp(k)}</text>
        </g>
      ))}
      <text x={582.3} y={493.3} dy="0.35em" textAnchor="middle" fontSize={9} fill={TXT}>CON</text>
      <text transform="translate(434,370) rotate(-90)" dy="0.35em" textAnchor="middle" fontSize={9} fill={TXT}>CFE</text>
      {scatterLegend.map((l, i) => (
        <g key={i}>
          <circle cx={616} cy={415.3 + i * 10.85} r={1.6} fill={scatterColors[i]} />
          <text x={623.3} y={415.3 + i * 10.85} dy="0.35em" fontSize={8.6} fill={TXT}>
            {l}
            {scatterLegendP[i] ? <tspan fontStyle="italic">P</tspan> : null}
            {scatterLegendP[i]}
          </text>
        </g>
      ))}
    </g>
  );
}

type GoProps = {
  terms: string[]; rich: number[]; counts: number[]; pvals: number[];
  left: number; right: number; top: number; bottom: number; domain: [number, number];
  ticks: number[]; minor: number[]; fmt: (v: number) => string; labelEnd: number;
  area: d3.ScaleLinear<number, number>; pMax: number; tickY: number; titleX: number; titleY: number; fs: number;
};
function GoPanel(p: GoProps) {
  const x = d3.scaleLinear().domain(p.domain).range([p.left, p.right]);
  const y = d3.scalePoint().domain(p.terms).range([p.top, p.bottom]).padding(0.6);
  return (
    <g>
      {p.minor.map((v) => <line key={"m" + v} x1={x(v)} x2={x(v)} y1={p.top} y2={p.bottom} stroke="#F4F4F4" strokeWidth={0.5} />)}
      {p.ticks.map((v) => <line key={"g" + v} x1={x(v)} x2={x(v)} y1={p.top} y2={p.bottom} stroke="#EAEAEA" strokeWidth={0.7} />)}
      {p.terms.map((t) => <line key={"h" + t} x1={p.left} x2={p.right} y1={y(t)} y2={y(t)} stroke="#EAEAEA" strokeWidth={0.7} />)}
      {p.terms.map((t, i) => (
        <circle key={"c" + t} cx={x(p.rich[i])} cy={y(t)} r={Math.sqrt(p.area(p.counts[i]))} fill={pGradient(p.pvals[i] / p.pMax)} />
      ))}
      <rect x={p.left} y={p.top} width={p.right - p.left} height={p.bottom - p.top} fill="none" stroke="#808080" strokeWidth={0.8} />
      {p.terms.map((t) => (
        <g key={"l" + t}>
          <line x1={p.left - 2.5} x2={p.left} y1={y(t)} y2={y(t)} stroke="#333" strokeWidth={0.6} />
          <text x={p.labelEnd} y={y(t)} dy="0.35em" textAnchor="end" fontSize={p.fs} fill={TXT}>{t}</text>
        </g>
      ))}
      {p.ticks.map((v) => (
        <g key={"t" + v}>
          <line x1={x(v)} x2={x(v)} y1={p.bottom} y2={p.bottom + 2.5} stroke="#333" strokeWidth={0.6} />
          <text x={x(v)} y={p.tickY} dy="0.35em" textAnchor="middle" fontSize={p.fs} fill={TXT}>{p.fmt(v)}</text>
        </g>
      ))}
      <text x={p.titleX} y={p.titleY} dy="0.35em" textAnchor="middle" fontSize={p.fs} fill={TXT}>Rich factor</text>
    </g>
  );
}

type ColorBarProps = { id: string; x: number; top: number; bottom: number; w: number; pMax: number; ticks: number[]; labelX: number; titleX: number; titleY: number };
function ColorBar(p: ColorBarProps) {
  const s = d3.scaleLinear().domain([0, p.pMax]).range([p.bottom, p.top]);
  const stops = d3.range(0, 1.0001, 0.1);
  return (
    <g>
      <defs>
        <linearGradient id={p.id} x1="0" y1="1" x2="0" y2="0">
          {stops.map((t) => <stop key={t} offset={t} stopColor={pGradient(t)} />)}
        </linearGradient>
      </defs>
      <text x={p.titleX} y={p.titleY} dy="0.35em" fontSize={7.2} fill={TXT}><tspan fontStyle="italic">P</tspan> value</text>
      <rect x={p.x} y={p.top} width={p.w} height={p.bottom - p.top} fill={`url(#${p.id})`} />
      {p.ticks.map((t) => (
        <g key={t}>
          <line x1={p.x} x2={p.x + 1.8} y1={s(t)} y2={s(t)} stroke="#fff" strokeWidth={0.6} />
          <line x1={p.x + p.w - 1.8} x2={p.x + p.w} y1={s(t)} y2={s(t)} stroke="#fff" strokeWidth={0.6} />
          <text x={p.labelX} y={s(t)} dy="0.35em" fontSize={7.2} fill={TXT}>{t.toFixed(1)}</text>
        </g>
      ))}
    </g>
  );
}

type SizeLegendProps = { vals: number[]; area: d3.ScaleLinear<number, number>; titleX: number; titleY: number; dotX: number; ys: number[]; labelX: number };
function SizeLegend(p: SizeLegendProps) {
  return (
    <g>
      <text x={p.titleX} y={p.titleY} dy="0.35em" fontSize={7.2} fill={TXT}>Protein number</text>
      {p.vals.map((v, i) => (
        <g key={v}>
          <circle cx={p.dotX} cy={p.ys[i]} r={Math.sqrt(p.area(v))} fill="#000" />
          <text x={p.labelX} y={p.ys[i]} dy="0.35em" fontSize={7.2} fill={TXT}>{v}</text>
        </g>
      ))}
    </g>
  );
}

export default function App() {
  const gArea = d3.scaleLinear().domain([0, 800]).range([1, 16.6]);
  const hArea = d3.scaleLinear().domain([0, 50]).range([1.2, 13.7]);
  return (
    <svg width={685} height={815} style={{ position: "absolute", left: 0, top: 0, background: "#fff" }} fontFamily={FONT}>
      <rect width={685} height={815} fill="#fff" />
      <Letter x={3} y={13.5} t="A" />
      <Letter x={220} y={13.5} t="B" />
      <Letter x={462} y={14} t="C" />
      <Letter x={2} y={311.7} t="D" />
      <Letter x={197} y={311.7} t="E" />
      <Letter x={428} y={283} t="F" />
      <Letter x={2} y={518.3} t="G" />
      <Letter x={342.7} y={518.3} t="H" />

      <StackedPanel title="Phylum" titleX={77.5} titleY={15.7} names={phylumNames} values={[phylumCON, phylumCFE]} colors={phylumColors}
        top={29.3} bottom={276} axisX={45} axisEnd={120} pi={0.275} po={0.075} labelEnd={37} yTitleX={12.5}
        legendX={126} legendY={130} legendStep={10.5} italic={false} />
      <StackedPanel title="Genus" titleX={298} titleY={20} names={genusNames} values={[genusCON, genusCFE]} colors={genusColors}
        top={30.7} bottom={276} axisX={252.3} axisEnd={343} pi={0.298} po={0.247} labelEnd={248.5} yTitleX={217}
        legendX={358} legendY={114.3} legendStep={11} italic={true} />
      <PanelC />
      <PanelD />
      <PanelE />
      <PanelF />

      <GoPanel terms={goTerms} rich={goRich} counts={goCount} pvals={goP} left={147.5} right={310} top={520.7} bottom={790}
        domain={[0.084, 1.046]} ticks={goTicks} minor={[0.125, 0.375, 0.625, 0.875]} fmt={d3.format(".2f")} labelEnd={141.7}
        area={gArea} pMax={0.445} tickY={798.3} titleX={228.3} titleY={811.5} fs={7.1} />
      <ColorBar id="gradG" x={314.3} top={661} bottom={710} w={8} pMax={0.445} ticks={goPLegend} labelX={326} titleX={314} titleY={654.3} />
      <SizeLegend vals={goSizeLegend} area={gArea} titleX={313.5} titleY={725} dotX={318.3} ys={[735.3, 745.3, 755.7]} labelX={326} />

      <GoPanel terms={hTerms} rich={hRich} counts={hCount} pvals={hP} left={447.3} right={632} top={522} bottom={735.4}
        domain={[0.0082, 0.0801]} ticks={hTicks} minor={[0.01, 0.03, 0.05, 0.07]} fmt={d3.format(".2f")} labelEnd={443.3}
        area={hArea} pMax={0.327} tickY={744.3} titleX={541.7} titleY={756} fs={7.1} />
      <SizeLegend vals={hSizeLegend} area={hArea} titleX={635} titleY={560.3} dotX={646.7} ys={[572, 581.7, 591.3, 601.3, 611.3]} labelX={656.7} />
      <ColorBar id="gradH" x={642} top={638.3} bottom={687.7} w={9.7} pMax={0.327} ticks={hPLegend} labelX={655} titleX={641.7} titleY={632} />
    </svg>
  );
}
